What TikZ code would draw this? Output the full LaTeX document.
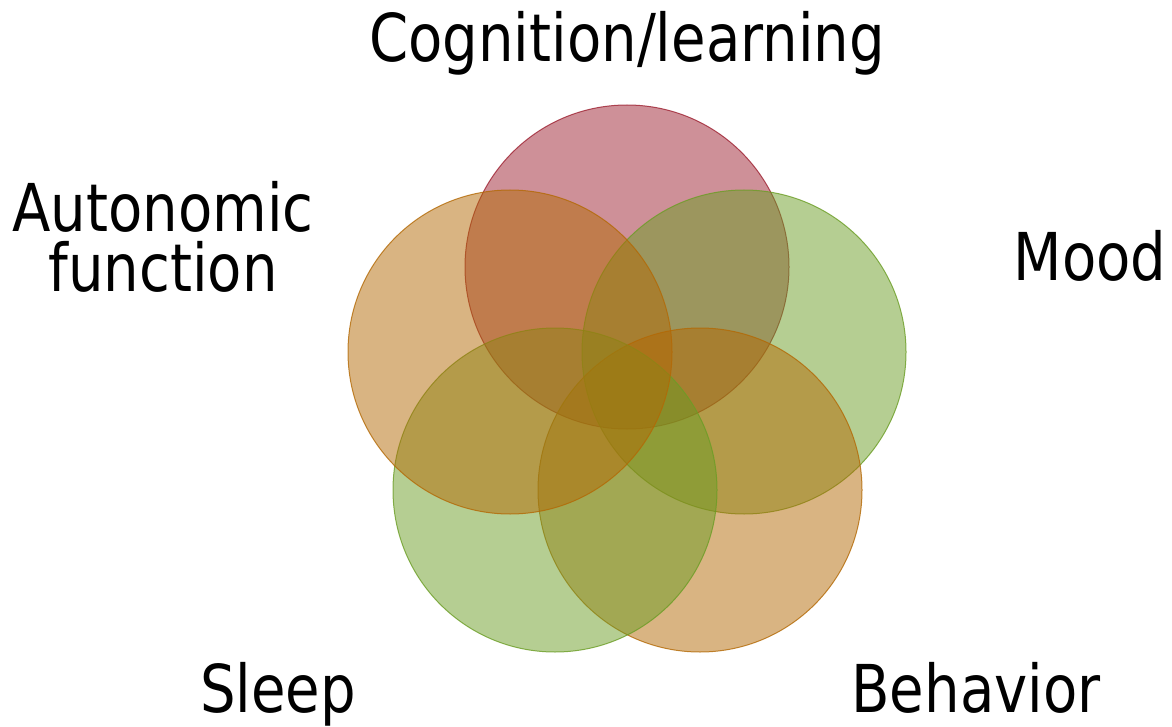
\documentclass[tikz,border=0pt]{standalone}
\usepackage{fontspec}
\setmainfont{DejaVu Sans}[FakeStretch=0.85]
\definecolor{cogred}{RGB}{157,33,49}
\definecolor{leafgreen}{RGB}{107,157,37}
\definecolor{ochre}{RGB}{179,105,5}
\begin{document}
\begin{tikzpicture}[x=10pt,y=10pt]
\tikzstyle{every node}+=[inner sep=0pt, font=\fontsize{66}{54}\selectfont]
\tikzstyle{blob}=[line width=1pt, fill opacity=0.5, draw opacity=0.8]
\useasboundingbox (0,0) rectangle (117.2,-72.7);
% the five sets
\draw [blob, draw=cogred, fill=cogred] (62.7,-26.7) circle (16.2);
\draw [blob, draw=leafgreen, fill=leafgreen] (74.4,-35.2) circle (16.2);
\draw [blob, draw=ochre, fill=ochre] (70.0,-49.0) circle (16.2);
\draw [blob, draw=leafgreen, fill=leafgreen] (55.5,-49.0) circle (16.2);
\draw [blob, draw=ochre, fill=ochre] (51.0,-35.2) circle (16.2);
% labels
\draw (62.7,-6.2) node (cog) [anchor=base] {Cognition/learning};
\draw (16.3,-29.1) node (auto) [anchor=base, align=center] {Autonomic\\[6pt]function};
\draw (109.0,-28.0) node (mood) [anchor=base] {Mood};
\draw (27.8,-71.2) node (sleep) [anchor=base] {Sleep};
\draw (97.6,-71.2) node (behav) [anchor=base] {Behavior};
\end{tikzpicture}
\end{document}
